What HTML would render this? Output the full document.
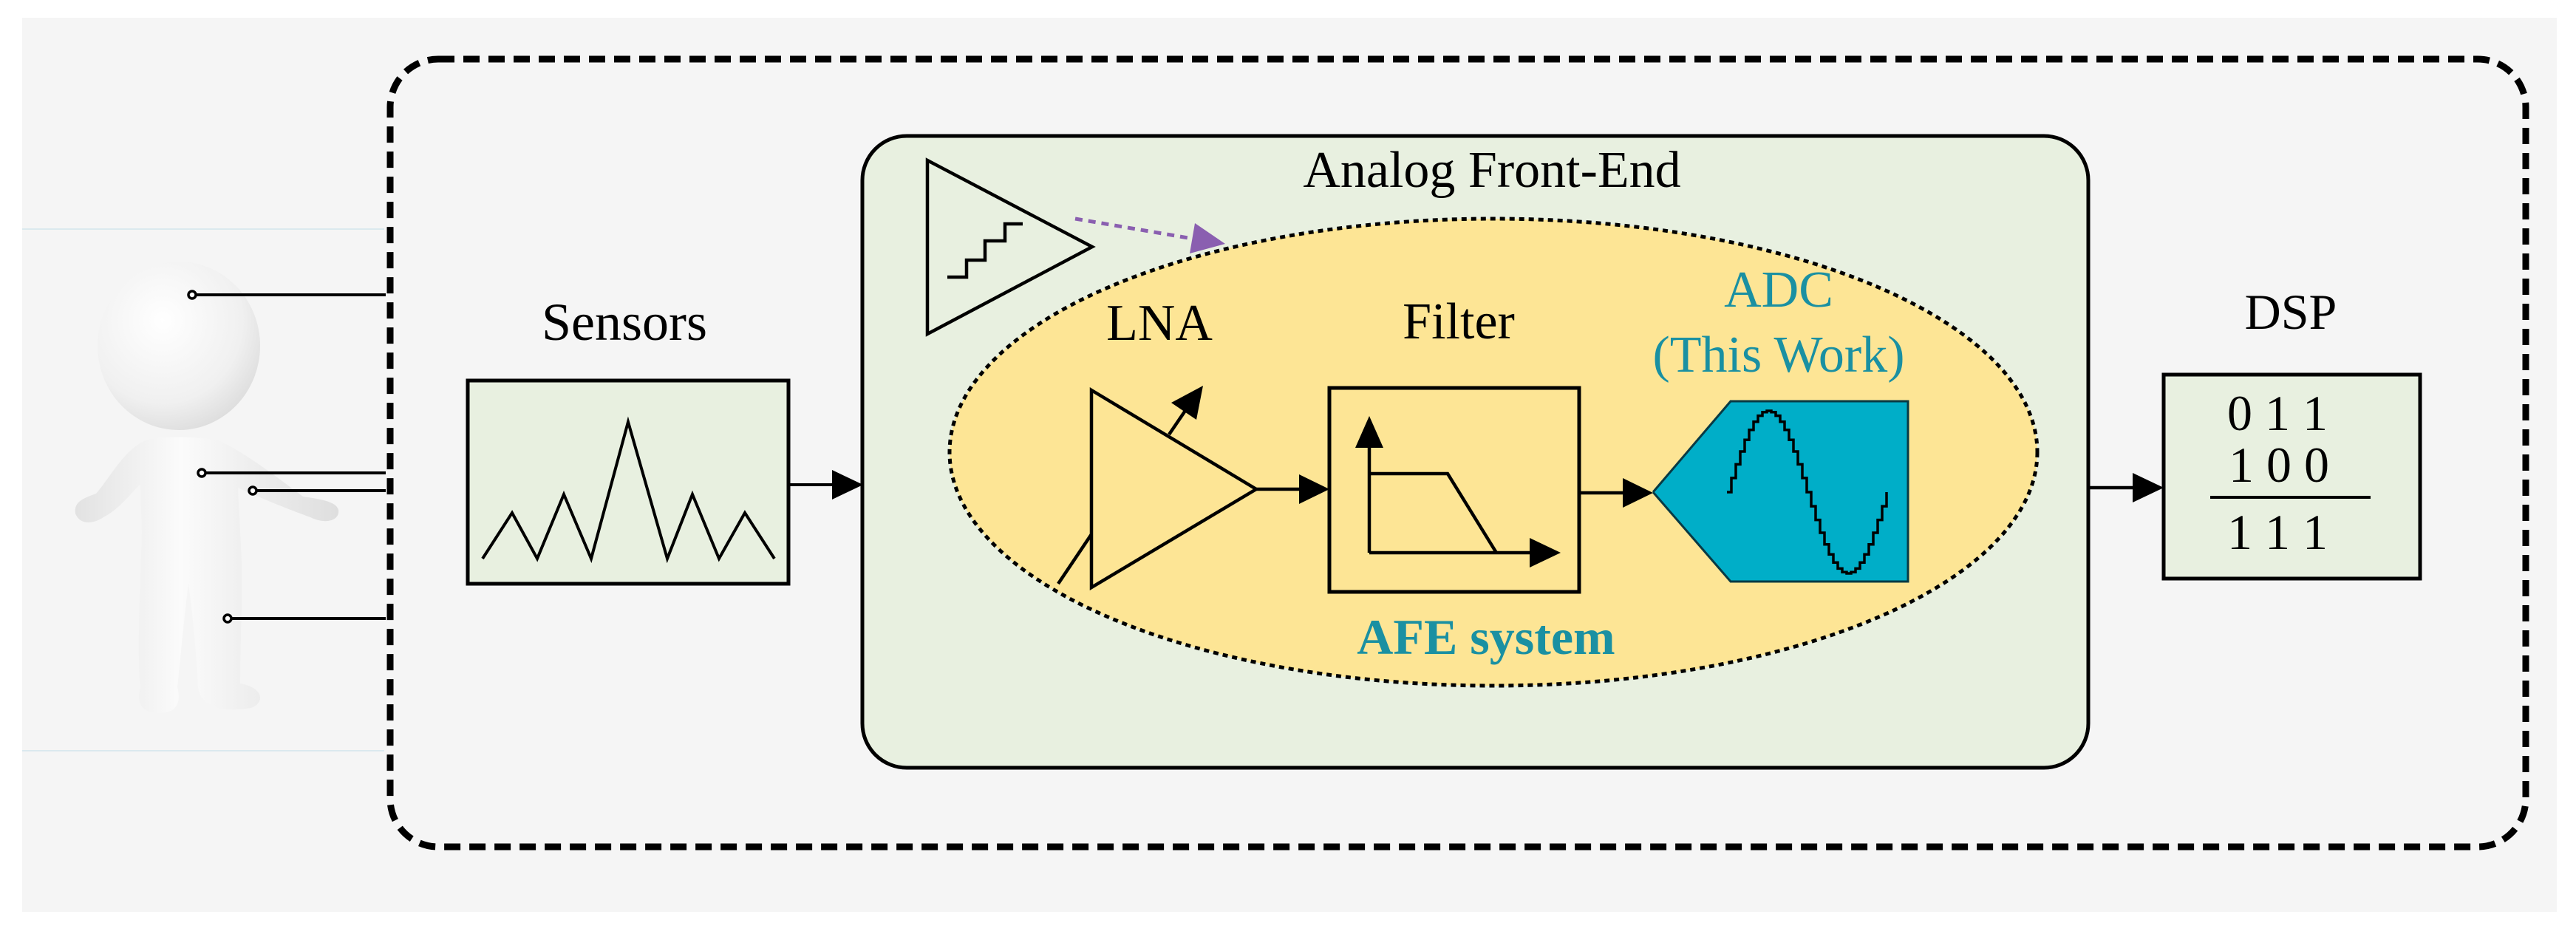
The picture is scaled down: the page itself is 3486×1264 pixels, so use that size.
<!DOCTYPE html>
<html><head><meta charset="utf-8"><style>
html,body{margin:0;padding:0;background:#fff}
svg{display:block}
text{font-family:"Liberation Serif",serif}
</style></head><body>
<svg width="3486" height="1264" viewBox="0 0 3486 1264" xmlns="http://www.w3.org/2000/svg">
<defs>
<radialGradient id="hg" cx="0.4" cy="0.35" r="0.7"><stop offset="0" stop-color="#ffffff"/><stop offset="0.7" stop-color="#f0f0f0"/><stop offset="1" stop-color="#dcdcdc"/></radialGradient>
<linearGradient id="bg2" x1="0" x2="1"><stop offset="0" stop-color="#e2e2e2"/><stop offset="0.4" stop-color="#fbfbfb"/><stop offset="1" stop-color="#dedede"/></linearGradient>
</defs>
<rect x="30" y="24" width="3430" height="1210" fill="#f5f5f5"/>
<line x1="30" y1="310" x2="520" y2="310" stroke="#dbe9ee" stroke-width="2"/>
<line x1="30" y1="1016" x2="520" y2="1016" stroke="#dbe9ee" stroke-width="2"/>
<!-- person -->
<g>
<path d="M200,595 C170,605 150,645 130,668 C110,675 100,680 102,695 C108,710 125,710 140,700 C160,690 175,670 190,655 L192,720 C190,800 185,880 190,930 C185,950 190,965 215,965 C240,965 245,950 240,930 C245,880 250,830 255,790 C262,840 266,890 268,930 C270,955 300,965 340,958 C360,950 355,930 325,925 C325,860 330,790 325,720 L322,660 C355,675 392,690 420,700 C440,710 460,705 458,690 C455,678 430,675 410,672 C380,650 340,618 300,598 C280,590 220,590 200,595 Z" fill="url(#bg2)"/>
<ellipse cx="242" cy="468" rx="110" ry="114" fill="url(#hg)"/>
</g>
<g stroke="#000" stroke-width="4" fill="none">
<line x1="264" y1="399" x2="522" y2="399"/>
<line x1="276" y1="640" x2="522" y2="640"/>
<line x1="346" y1="664" x2="522" y2="664"/>
<line x1="311" y1="837" x2="522" y2="837"/>
</g>
<g fill="#fff" stroke="#000" stroke-width="3.5">
<circle cx="260" cy="399" r="5"/><circle cx="273" cy="640" r="5"/><circle cx="342" cy="664" r="5"/><circle cx="308" cy="837" r="5"/>
</g>
<!-- dashed outer -->
<rect x="528" y="80" width="2890" height="1066" rx="65" fill="none" stroke="#000" stroke-width="9" stroke-dasharray="22 12"/>
<!-- sensors -->
<text x="845" y="460" font-size="72" text-anchor="middle">Sensors</text>
<rect x="633" y="515" width="434" height="275" fill="#e8f0e0" stroke="#000" stroke-width="5"/>
<polyline points="653,756 693,694 727,756 763,669 800,756 850,571 903,756 937,669 973,756 1008,694 1048,756" fill="none" stroke="#000" stroke-width="4"/>
<line x1="1067" y1="656" x2="1130" y2="656" stroke="#000" stroke-width="4"/>
<polygon points="1168,656 1126,636 1126,676" fill="#000"/>
<!-- AFE box -->
<rect x="1167" y="184" width="1659" height="855" rx="60" fill="#e8f0e0" stroke="#000" stroke-width="5"/>
<text x="2019" y="253" font-size="70" text-anchor="middle">Analog Front-End</text>
<ellipse cx="2021" cy="612" rx="736" ry="316" fill="#fde595" stroke="#000" stroke-width="5" stroke-dasharray="7 6"/>
<!-- step triangle -->
<polygon points="1255,217 1478,334 1255,452" fill="none" stroke="#000" stroke-width="4.5"/>
<polyline points="1282,375 1308,375 1308,352 1333,352 1333,326 1360,326 1360,303 1384,303" fill="none" stroke="#000" stroke-width="4.5"/>
<line x1="1455" y1="296" x2="1614" y2="323" stroke="#8a5fb0" stroke-width="5" stroke-dasharray="10 8"/>
<polygon points="1658,330 1617,302 1610,343" fill="#8a5fb0"/>
<!-- LNA -->
<text x="1569" y="460" font-size="70" text-anchor="middle">LNA</text>
<polygon points="1477,528 1700,662 1477,795" fill="none" stroke="#000" stroke-width="4.5"/>
<line x1="1582" y1="588" x2="1612" y2="544" stroke="#000" stroke-width="4.5"/>
<polygon points="1628,522 1585,545 1619,568" fill="#000"/>
<line x1="1432" y1="790" x2="1477" y2="723" stroke="#000" stroke-width="4.5"/>
<line x1="1700" y1="662" x2="1762" y2="662" stroke="#000" stroke-width="4.5"/>
<polygon points="1799,662 1758,642 1758,682" fill="#000"/>
<!-- Filter -->
<text x="1974" y="458" font-size="70" text-anchor="middle">Filter</text>
<rect x="1799" y="525" width="338" height="276" fill="none" stroke="#000" stroke-width="5"/>
<line x1="1853" y1="748" x2="1853" y2="600" stroke="#000" stroke-width="4.5"/>
<polygon points="1853,563 1834,606 1872,606" fill="#000"/>
<line x1="1853" y1="748" x2="2075" y2="748" stroke="#000" stroke-width="4.5"/>
<polygon points="2112,748 2070,728 2070,768" fill="#000"/>
<polyline points="1853,641 1959,641 2025,748" fill="none" stroke="#000" stroke-width="4.5"/>
<line x1="2137" y1="667" x2="2198" y2="667" stroke="#000" stroke-width="4.5"/>
<polygon points="2237,667 2196,647 2196,687" fill="#000"/>
<!-- ADC -->
<text x="2407" y="415" font-size="70" text-anchor="middle" fill="#1a90a2">ADC</text>
<text x="2407" y="503" font-size="70" text-anchor="middle" fill="#1a90a2">(This Work)</text>
<polygon points="2237,666 2342,543 2582,543 2582,787 2342,787" fill="#00aec8"/>
<polyline points="2237,666 2342,543 2582,543 2582,787 2342,787 2237,666" fill="none" stroke="#083a44" stroke-width="3"/>
<path id="sine" fill="none" stroke="#000" stroke-width="3.5" d=""/>
<text x="2011" y="885" font-size="68" font-weight="bold" text-anchor="middle" fill="#1a90a2">AFE system</text>
<!-- DSP -->
<line x1="2826" y1="660" x2="2890" y2="660" stroke="#000" stroke-width="4.5"/>
<polygon points="2928,660 2886,640 2886,680" fill="#000"/>
<text x="3100" y="445" font-size="68" text-anchor="middle">DSP</text>
<rect x="2928" y="507" width="347" height="276" fill="#e8f0e0" stroke="#000" stroke-width="5"/>
<text x="3082" y="582" font-size="68" text-anchor="middle">0 1 1</text>
<text x="3084" y="652" font-size="68" text-anchor="middle">1 0 0</text>
<line x1="2991" y1="673" x2="3208" y2="673" stroke="#000" stroke-width="4"/>
<text x="3082" y="743" font-size="68" text-anchor="middle">1 1 1</text>
</svg>
<script>
(function(){var x0=2337,P=216,A=110,cy=666,n=36,d="M"+x0+","+cy;var y=cy;
for(var i=1;i<=n;i++){var x=x0+P*i/n;var ny=cy-A*Math.sin(2*Math.PI*i/n);d+=" L"+x.toFixed(1)+","+y.toFixed(1)+" L"+x.toFixed(1)+","+ny.toFixed(1);y=ny;}
document.getElementById("sine").setAttribute("d",d);})();
</script>
</body></html>
